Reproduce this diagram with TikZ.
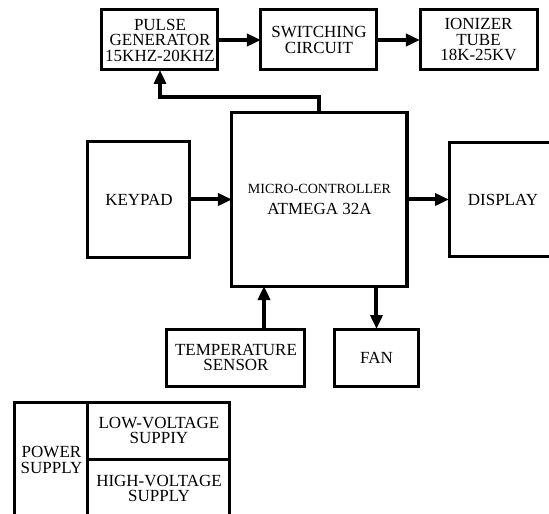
\documentclass[tikz,border=0pt]{standalone}
\usepackage{fontspec}
\setmainfont{Liberation Serif}
\usetikzlibrary{positioning, arrows.meta}

\begin{document}
\begin{tikzpicture}[node distance=43pt,
    block/.style={draw, line width=3pt, outer sep=0pt, inner sep=0pt, align=center,
      font=\fontsize{17}{15.5}\selectfont},
    arrow/.style={line width=4pt, -{Triangle[length=14pt,width=12pt]}}]
			\useasboundingbox (-319.5pt,-314.5pt) rectangle (229.5pt,199.5pt);
			\node[block, minimum width=175pt, minimum height=173pt]                     (mcu)     {{\fontsize{14}{14}\selectfont MICRO-CONTROLLER}\\[5pt] ATMEGA 32A};
			\node[block, minimum width=102pt, minimum height=115pt, left=42pt of mcu]   (keypad)  {KEYPAD};
			\node[block, minimum width=108pt, minimum height=114pt, right=42pt of mcu]  (display) {DISPLAY};
			\node[block, minimum width=116pt, minimum height=60pt, above left=43pt and 14pt of mcu.north west] (pulse)  {PULSE\\GENERATOR\\15KHZ-20KHZ};
			\node[block, minimum width=116pt, minimum height=60pt, right=of pulse]      (switch)  {SWITCHING\\CIRCUIT};
			\node[block, minimum width=117pt, minimum height=60pt, right=of switch]     (ionizer) {IONIZER\\TUBE\\18K-25KV};
			\node[block, minimum width=138pt, minimum height=57pt, below=of mcu.south west, xshift=4pt] (temp) {TEMPERATURE\\SENSOR};
			\node[block, minimum width=83pt, minimum height=57pt, right=30pt of temp]   (fan)     {FAN};
			\node[block, minimum width=73pt, minimum height=116pt, below left=16pt and 79pt of temp.south west] (power) {POWER\\SUPPLY};
			\node[block, minimum width=142pt, minimum height=57pt, anchor=north west] (low)  at (power.north east) {LOW-VOLTAGE\\SUPPIY};
			\node[block, minimum width=142pt, minimum height=59pt, anchor=north west] (high) at (low.south west)    {HIGH-VOLTAGE\\SUPPLY};

			\draw[arrow] (pulse) -- (switch);
			\draw[arrow] (switch) -- (ionizer);
			\draw[arrow] (keypad) -- (mcu);
			\draw[arrow] (mcu) -- (display);
			\draw[arrow] (mcu.north) -- ++(0,16pt) -| (pulse.south);
			\draw[arrow] ([xshift=-41pt]temp.north east) -- ([xshift=-41pt]temp.north east |- mcu.south);
			\draw[arrow] (fan.north |- mcu.south) -- (fan.north);
		\end{tikzpicture}
\end{document}
